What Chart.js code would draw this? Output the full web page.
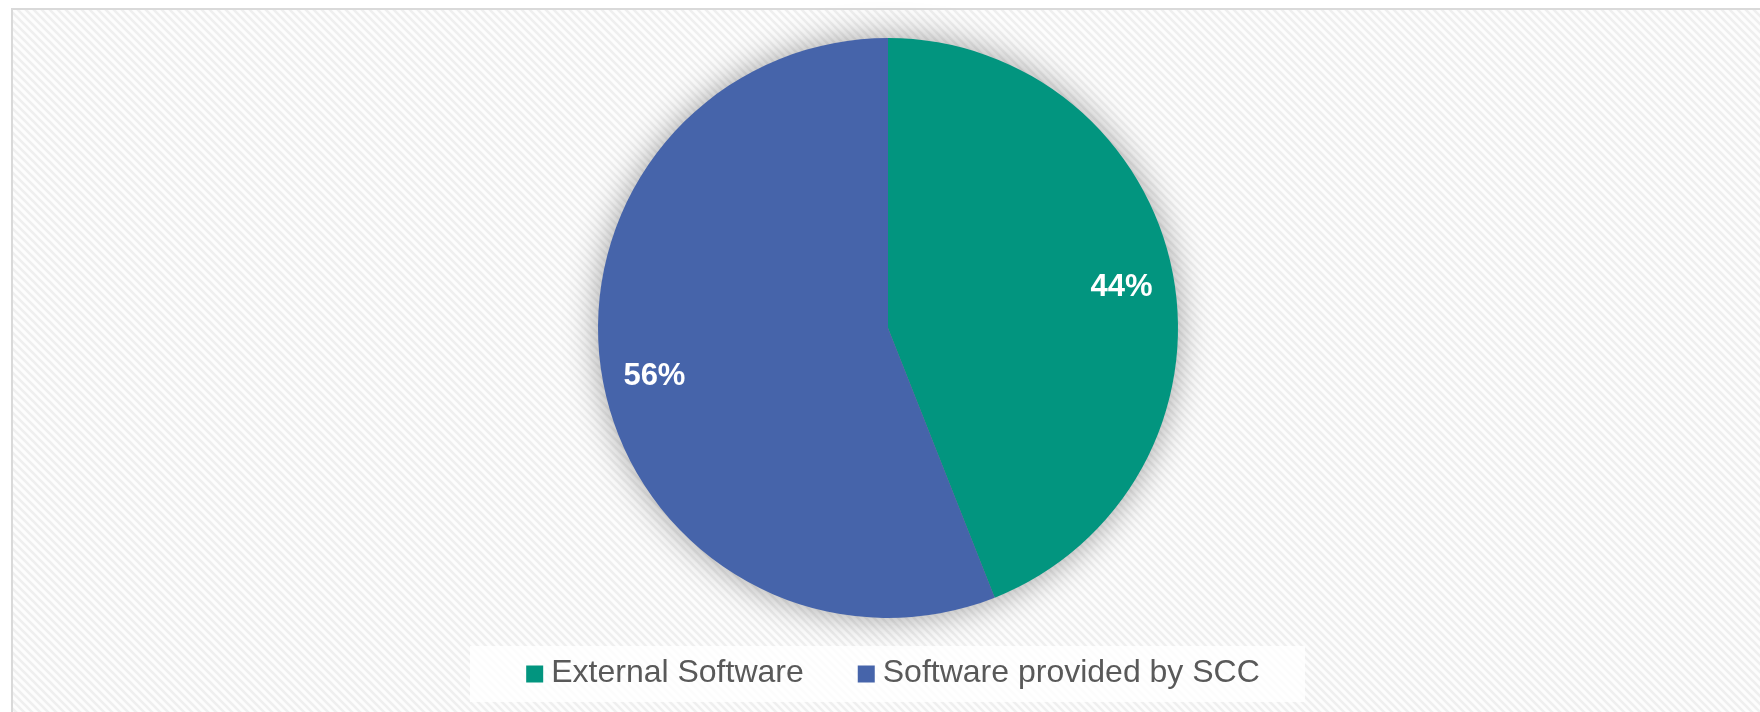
<!DOCTYPE html>
<html>
<head>
<meta charset="utf-8">
<title>Software sources</title>
<script src="https://cdn.jsdelivr.net/npm/chart.js@4/dist/chart.umd.min.js"></script>
<style>
  html, body { margin: 0; padding: 0; background: #ffffff; }
  canvas { display: block; }
</style>
</head>
<body>
<canvas id="chart" width="1760" height="712"></canvas>
<script>
// Share of software by source
const categories = ['External Software', 'Software provided by SCC'];
const shares = [44, 56];
const sliceColors = ['#02957F', '#4664AA'];

// Striped panel background with a thin grey frame
function makeStripes() {
  const n = 8;
  const tile = document.createElement('canvas');
  tile.width = n; tile.height = n;
  const t = tile.getContext('2d');
  t.fillStyle = '#fdfdfd';
  t.fillRect(0, 0, n, n);
  t.strokeStyle = '#efefef';
  t.lineWidth = 2.6;
  t.beginPath();
  for (let k = -n; k <= n; k += n) {
    t.moveTo(k - 1, -1);
    t.lineTo(k + n + 1, n + 1);
  }
  t.stroke();
  return tile;
}

const panelBackground = {
  id: 'panelBackground',
  beforeDraw(chart) {
    const ctx = chart.ctx;
    ctx.save();
    ctx.fillStyle = '#ffffff';
    ctx.fillRect(0, 0, chart.width, chart.height);
    ctx.fillStyle = ctx.createPattern(makeStripes(), 'repeat');
    ctx.fillRect(11, 8, chart.width - 11, chart.height - 8);
    ctx.strokeStyle = '#d9d9d9';
    ctx.lineWidth = 2;
    ctx.beginPath();
    ctx.moveTo(12, chart.height + 2);
    ctx.lineTo(12, 9);
    ctx.lineTo(chart.width + 2, 9);
    ctx.stroke();
    ctx.restore();
  }
};

// Soft shadow under the pie
const pieShadow = {
  id: 'pieShadow',
  beforeDatasetsDraw(chart) {
    const arc = chart.getDatasetMeta(0).data[0];
    if (!arc) return;
    const ctx = chart.ctx;
    ctx.save();
    ctx.shadowColor = 'rgba(0,0,0,0.38)';
    ctx.shadowBlur = 34;
    ctx.fillStyle = '#888888';
    ctx.beginPath();
    ctx.arc(arc.x, arc.y, arc.outerRadius - 1, 0, Math.PI * 2);
    ctx.fill();
    ctx.restore();
  }
};

// Percentage labels inside each slice
const sliceLabels = {
  id: 'sliceLabels',
  afterDatasetsDraw(chart) {
    const ctx = chart.ctx;
    const values = chart.data.datasets[0].data;
    const total = values.reduce((a, b) => a + b, 0);
    ctx.save();
    ctx.fillStyle = '#ffffff';
    ctx.font = 'bold 31px "Liberation Sans", Arial, sans-serif';
    ctx.textAlign = 'center';
    ctx.textBaseline = 'middle';
    chart.getDatasetMeta(0).data.forEach((arc, i) => {
      const mid = (arc.startAngle + arc.endAngle) / 2;
      const r = arc.outerRadius * 0.82;
      const x = arc.x + Math.cos(mid) * r;
      const y = arc.y + Math.sin(mid) * r + 4;
      ctx.fillText(Math.round(values[i] / total * 100) + '%', x, y);
    });
    ctx.restore();
  }
};

// Legend strip below the pie
const legendStrip = {
  id: 'legendStrip',
  afterDraw(chart) {
    const ctx = chart.ctx;
    const labels = chart.data.labels;
    const colors = chart.data.datasets[0].backgroundColor;
    ctx.save();
    ctx.fillStyle = 'rgba(255,255,255,0.8)';
    ctx.fillRect(470, 646, 835, 56);
    ctx.font = '32px "Liberation Sans", Arial, sans-serif';
    const box = 17, gap = 8, itemGap = 54;
    const widths = labels.map(l => box + gap + ctx.measureText(l).width);
    const total = widths.reduce((a, b) => a + b, 0) + itemGap * (labels.length - 1);
    let x = 893 - total / 2;
    const cy = 673;
    ctx.textBaseline = 'middle';
    labels.forEach((l, i) => {
      ctx.fillStyle = colors[i];
      ctx.fillRect(x, cy - box / 2 + 1, box, box);
      ctx.fillStyle = '#595959';
      ctx.fillText(l, x + box + gap, cy);
      x += widths[i] + itemGap;
    });
    ctx.restore();
  }
};

new Chart(document.getElementById('chart'), {
  type: 'pie',
  data: {
    labels: categories,
    datasets: [{
      data: shares,
      backgroundColor: sliceColors,
      borderWidth: 0
    }]
  },
  options: {
    responsive: false,
    animation: false,
    radius: 290,
    layout: { padding: { top: 20, bottom: 76, left: 16, right: 0 } },
    plugins: {
      legend: { display: false },
      tooltip: { enabled: false }
    }
  },
  plugins: [panelBackground, pieShadow, sliceLabels, legendStrip]
});
</script>
</body>
</html>
